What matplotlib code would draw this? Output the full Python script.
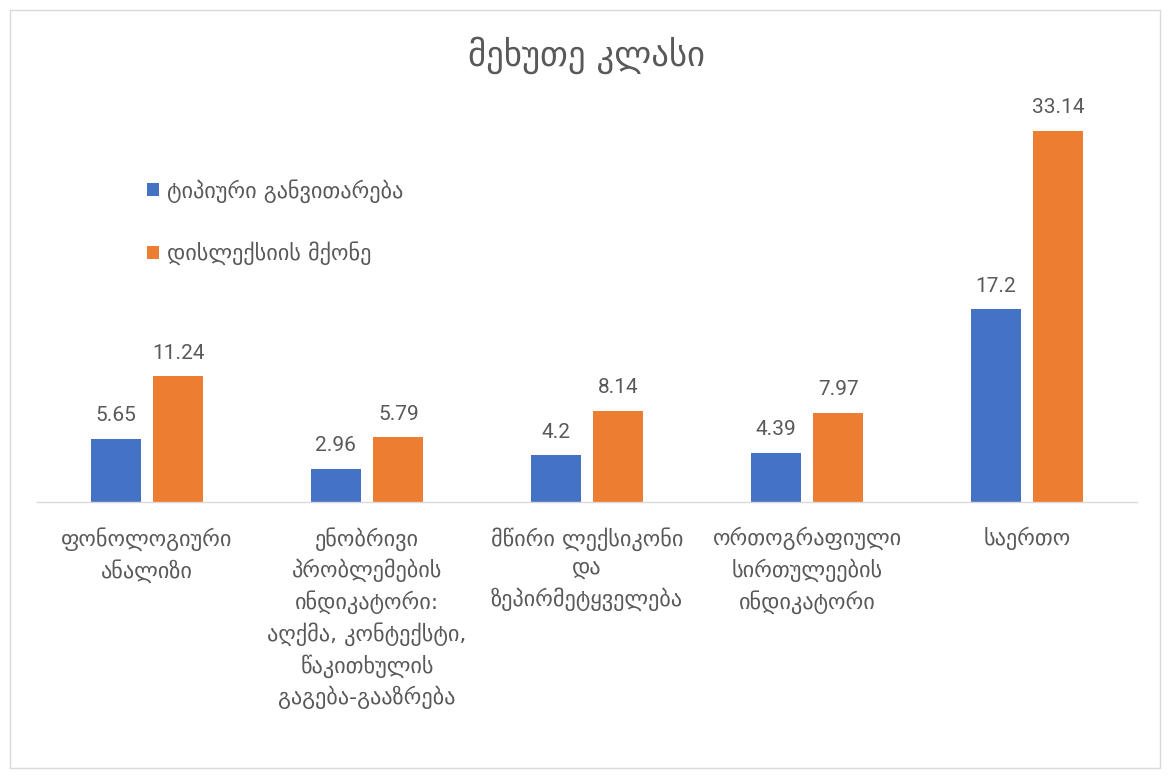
import numpy as np
import matplotlib.pyplot as plt
from matplotlib.patches import Rectangle

categories = [
    "ფონოლოგიური\nანალიზი",
    "ენობრივი\nპრობლემების\nინდიკატორი:\nაღქმა, კონტექსტი,\nწაკითხულის\nგაგება-გააზრება",
    "მწირი ლექსიკონი\nდა\nზეპირმეტყველება",
    "ორთოგრაფიული\nსირთულეების\nინდიკატორი",
    "საერთო",
]
typical = [5.65, 2.96, 4.2, 4.39, 17.2]
dyslexia = [11.24, 5.79, 8.14, 7.97, 33.14]
series_names = ["ტიპიური განვითარება", "დისლექსიის მქონე"]

BLUE = "#4472C4"
ORANGE = "#ED7D31"
TEXT = "#595959"
GEO = ["DejaVu Sans"]
NUM = ["Roboto", "DejaVu Sans"]

fig = plt.figure(figsize=(11.71, 7.78), dpi=100)
W, H = 1171, 778

# outer chart frame
fig.patches.append(Rectangle((10 / W, 10 / H), 1150 / W, 758 / H, transform=fig.transFigure,
                             fill=False, edgecolor="#D9D9D9", linewidth=1.0))

# plot area: x 37..1137 px, y 110..502 px (top -> 35 units)
ax = fig.add_axes([37 / W, (H - 502) / H, 1100 / W, 392 / H])
x = np.arange(len(categories))
width = 0.227
off = 0.143
b1 = ax.bar(x - off, typical, width, color=BLUE, label=series_names[0])
b2 = ax.bar(x + off, dyslexia, width, color=ORANGE, label=series_names[1])

for bars, vals in ((b1, typical), (b2, dyslexia)):
    for rect, v in zip(bars, vals):
        ax.text(rect.get_x() + rect.get_width() / 2, v + 1.2, f"{v:g}",
                ha="center", va="bottom", fontsize=15, color=TEXT, family=NUM)

ax.set_xlim(-0.5, len(categories) - 0.5)
ax.set_ylim(0, 35)
ax.set_yticks([])
ax.set_xticks(x)
ax.set_xticklabels(categories, fontsize=16, color=TEXT, family=GEO, linespacing=1.44)
ax.tick_params(axis="x", length=0, pad=18)
for s in ("top", "right", "left"):
    ax.spines[s].set_visible(False)
ax.spines["bottom"].set_color("#D9D9D9")
ax.spines["bottom"].set_linewidth(1.0)

fig.text(586 / W, 1 - 55 / H, "მეხუთე კლასი", ha="center", va="center",
         fontsize=25, color=TEXT, family=GEO)

leg = ax.legend(loc="upper left", bbox_to_anchor=(0.082, 0.875), frameon=False,
                prop={"family": GEO, "size": 16}, labelspacing=1.75,
                handlelength=0.55, handleheight=0.55, handletextpad=0.35)
for t in leg.get_texts():
    t.set_color(TEXT)

fig.savefig("out.png", dpi=100)
